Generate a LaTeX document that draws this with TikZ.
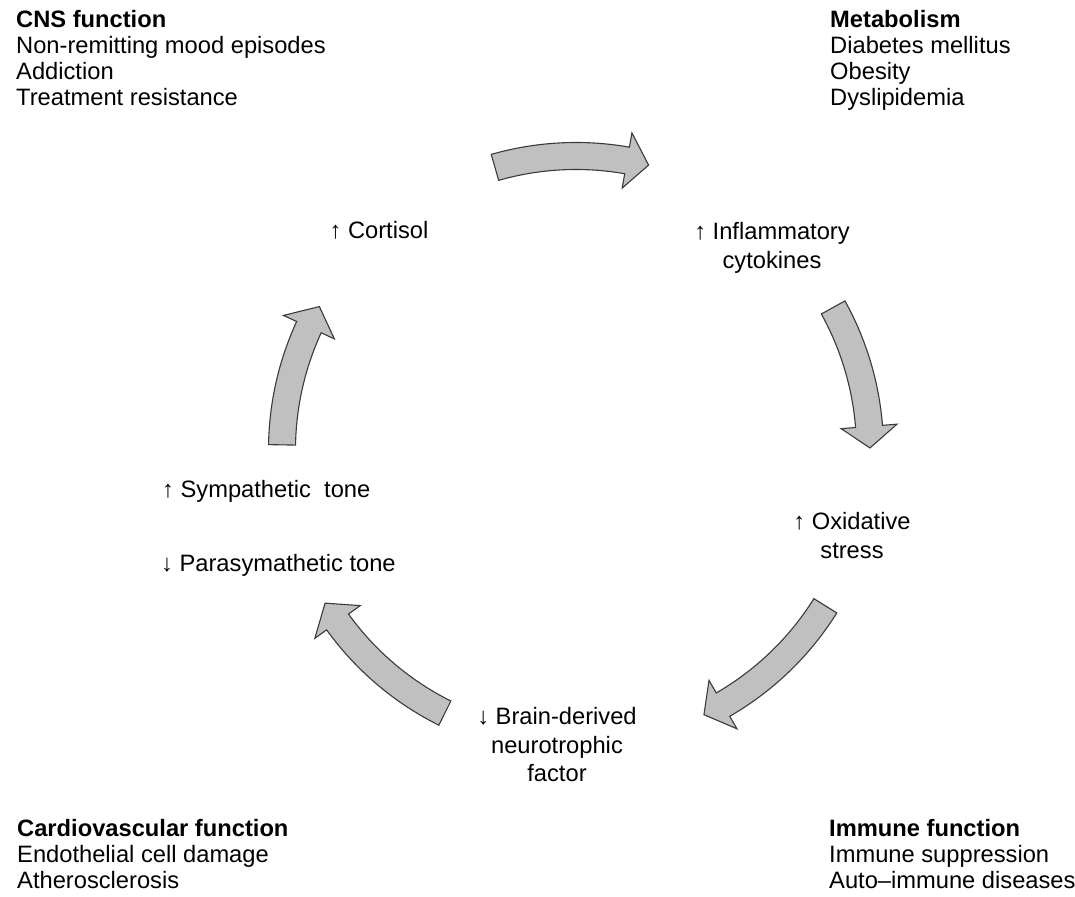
\documentclass[tikz,border=0pt]{standalone}
\usepackage{fontspec}
\setmainfont{Liberation Sans}
\definecolor{arrowfill}{HTML}{C0C0C0}
\definecolor{arrowline}{HTML}{3A3A3A}

% curved block arrow on the cycle: #1 tail angle, #2 head-base angle, #3 tip angle
\newcommand{\arOuter}{307.5pt}
\newcommand{\arInner}{280.5pt}
\newcommand{\arMid}{294pt}
\newcommand{\arBarbOut}{322pt}
\newcommand{\arBarbIn}{266pt}
\newcommand{\cyclearrow}[3]{%
  \draw[blockarrow] (#1:\arOuter) arc[start angle=#1, end angle=#2, radius=\arOuter]
    -- (#2:\arBarbOut) -- (#3:\arMid) -- (#2:\arBarbIn) -- (#2:\arInner)
    arc[start angle=#2, end angle=#1, radius=\arInner] -- cycle;}

% multi-line nodes are placed by the baseline of their last line
\tikzset{
  blockarrow/.style={fill=arrowfill, draw=arrowline, line width=1.1pt, line join=miter},
  corner/.style={inner sep=0pt, anchor=base west, align=left,
    font=\fontsize{23.7}{26}\selectfont},
  cyclelabel/.style={inner sep=0pt, anchor=base, align=center,
    font=\fontsize{23.7}{28.5}\selectfont},
  sidelabel/.style={inner sep=0pt, anchor=base west,
    font=\fontsize{23.7}{28}\selectfont},
}

\begin{document}
\begin{tikzpicture}[x=1pt, y=1pt]
\useasboundingbox (0,0) rectangle (1075,896);

% corner groups of outcomes
\node[corner] (cns) at (16,790.7) {\textbf{CNS function}\\Non-remitting mood episodes\\Addiction\\Treatment resistance};
\node[corner] (meta) at (830,790.7) {\textbf{Metabolism}\\Diabetes mellitus\\Obesity\\Dyslipidemia};
\node[corner] (cardio) at (17,8) {\textbf{Cardiovascular function}\\Endothelial cell damage\\Atherosclerosis};
\node[corner] (immune) at (829,8) {\textbf{Immune function}\\Immune suppression\\Auto–immune diseases};

% stages of the cycle
\node[cyclelabel] (cortisol) at (379,657) {↑ Cortisol};
\node[cyclelabel] (cyto) at (772,627.5) {↑ Inflammatory\\cytokines};
\node[cyclelabel] (oxid) at (852,337.5) {↑ Oxidative\\stress};
\node[cyclelabel] (bdnf) at (557,114) {↓ Brain-derived\\neurotrophic\\factor};
\node[sidelabel] (symp) at (162,398) {↑ Sympathetic\ \ tone};
\node[sidelabel] (para) at (161,324) {↓ Parasymathetic tone};

% arrows around the cycle
\coordinate (hub) at (576,446);
\begin{scope}[shift={(hub)}]
  \cyclearrow{106}{80}{75.7}
  \cyclearrow{29}{4.6}{0.4}
  \cyclearrow{-32}{-60}{-64.2}
  \cyclearrow{-116.5}{-144.2}{-148.6}
  \cyclearrow{179}{155.3}{150.8}
\end{scope}
\end{tikzpicture}
\end{document}
